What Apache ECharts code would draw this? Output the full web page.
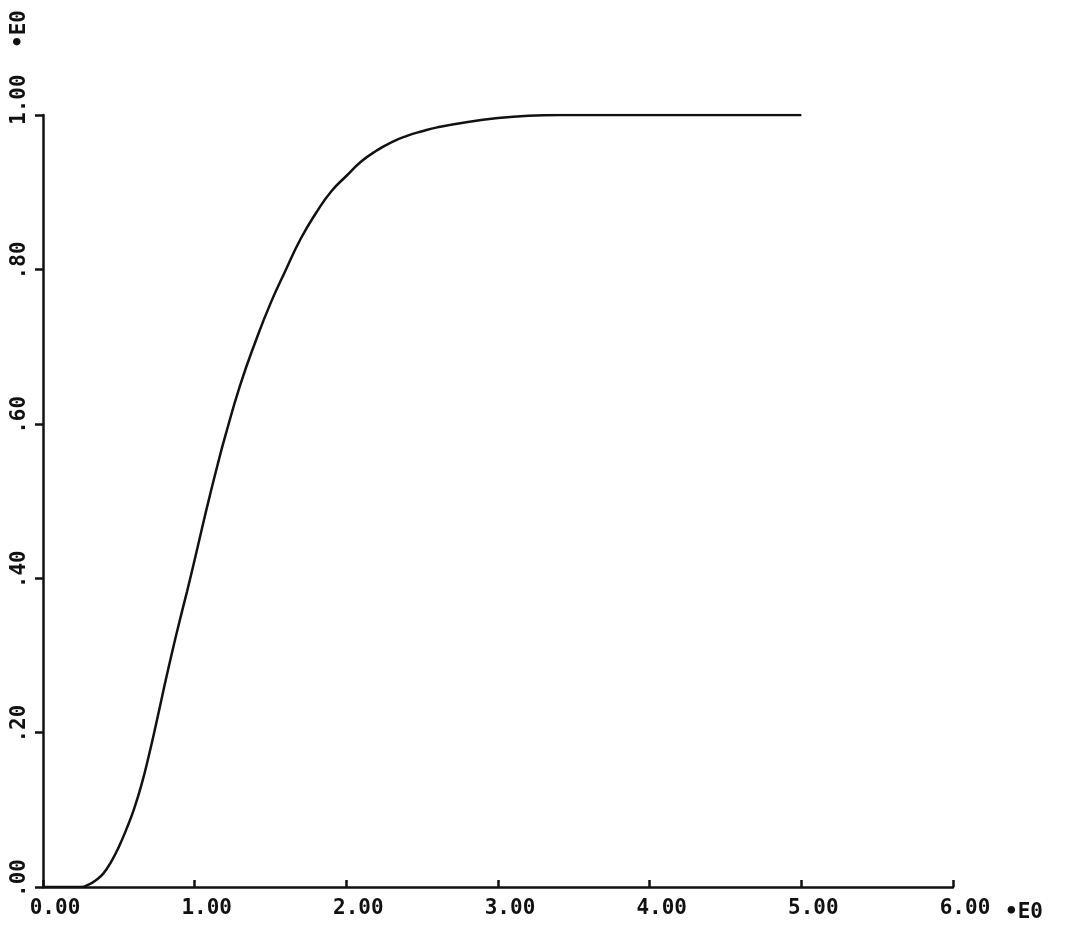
<!DOCTYPE html>
<html>
<head>
<meta charset="utf-8">
<script src="https://cdn.jsdelivr.net/npm/echarts@6/dist/echarts.min.js"></script>
<style>html,body{margin:0;padding:0;background:#fff}#c{width:1067px;height:927px}</style>
</head>
<body>
<div id="c"></div>
<script>
const xValues = [0, 0.10, 0.20, 0.25, 0.30, 0.35, 0.40, 0.45, 0.50, 0.55, 0.60, 0.65, 0.70, 0.75, 0.80, 0.85, 0.90, 0.95, 1.00, 1.05, 1.10, 1.15, 1.20, 1.30, 1.40, 1.50, 1.60, 1.70, 1.80, 1.90, 2.00, 2.10, 2.20, 2.30, 2.40, 2.50, 2.60, 2.80, 3.00, 3.20, 3.40, 4.00, 4.50, 5.00];
const yValues = [0, 0, 0, 0.000, 0.003, 0.009, 0.018, 0.033, 0.052, 0.075, 0.101, 0.133, 0.172, 0.215, 0.260, 0.303, 0.344, 0.383, 0.424, 0.466, 0.507, 0.546, 0.583, 0.650, 0.706, 0.756, 0.799, 0.840, 0.873, 0.901, 0.921, 0.940, 0.954, 0.965, 0.973, 0.979, 0.984, 0.991, 0.996, 0.999, 1.0, 1.0, 1.0, 1.0];
const xTickLabels = ['0.00', '1.00', '2.00', '3.00', '4.00', '5.00', '6.00'];
const yTickLabels = ['.00', '.20', '.40', '.60', '.80', '1.00'];
const xUnit = '•E0';
const yUnit = '•E0';

const FONT = 'DejaVu Sans Mono';
const INK = '#111';
const chart = echarts.init(document.getElementById('c'), null, {renderer: 'canvas'});
chart.setOption({
  backgroundColor: '#fff',
  animation: false,
  grid: {left: 43, right: 114, top: 115, bottom: 40, containLabel: false},
  graphic: [{
    type: 'text',
    rotation: Math.PI / 2,
    x: 20, y: 29,
    style: {text: yUnit, fontFamily: FONT, fontSize: 21, fontWeight: 'bold', fill: INK, align: 'center', verticalAlign: 'middle'}
  }],
  xAxis: {
    type: 'value', min: 0, max: 6, interval: 1,
    name: xUnit, nameLocation: 'end', nameGap: 52,
    nameTextStyle: {fontFamily: FONT, fontSize: 21, fontWeight: 'bold', color: INK, verticalAlign: 'top', padding: [15, 0, 0, 0]},
    axisLine: {show: true, onZero: false, lineStyle: {color: INK, width: 2.5}},
    axisTick: {show: true, inside: true, length: 7, lineStyle: {color: INK, width: 2.5}},
    splitLine: {show: false},
    axisLabel: {
      margin: 11, fontFamily: FONT, fontSize: 21, fontWeight: 'bold', color: INK,
      padding: [0, 0, 0, 24],
      formatter: v => xTickLabels[Math.round(v)]
    }
  },
  yAxis: {
    type: 'value', min: 0, max: 1, interval: 0.2,
    axisLine: {show: true, onZero: false, lineStyle: {color: INK, width: 2.5}},
    axisTick: {show: true, inside: false, length: 8, lineStyle: {color: INK, width: 2.5}},
    splitLine: {show: false},
    axisLabel: {
      rotate: 90, margin: 13, align: 'left', fontFamily: FONT, fontSize: 21, fontWeight: 'bold', color: INK,
      padding: [0, 0, 0, -10],
      formatter: v => yTickLabels[Math.round(v * 5)]
    }
  },
  series: [{
    type: 'line',
    data: xValues.map((x, i) => [x, yValues[i]]),
    smooth: 0.5,
    showSymbol: false,
    lineStyle: {color: INK, width: 2.5}
  }]
});
</script>
</body>
</html>
